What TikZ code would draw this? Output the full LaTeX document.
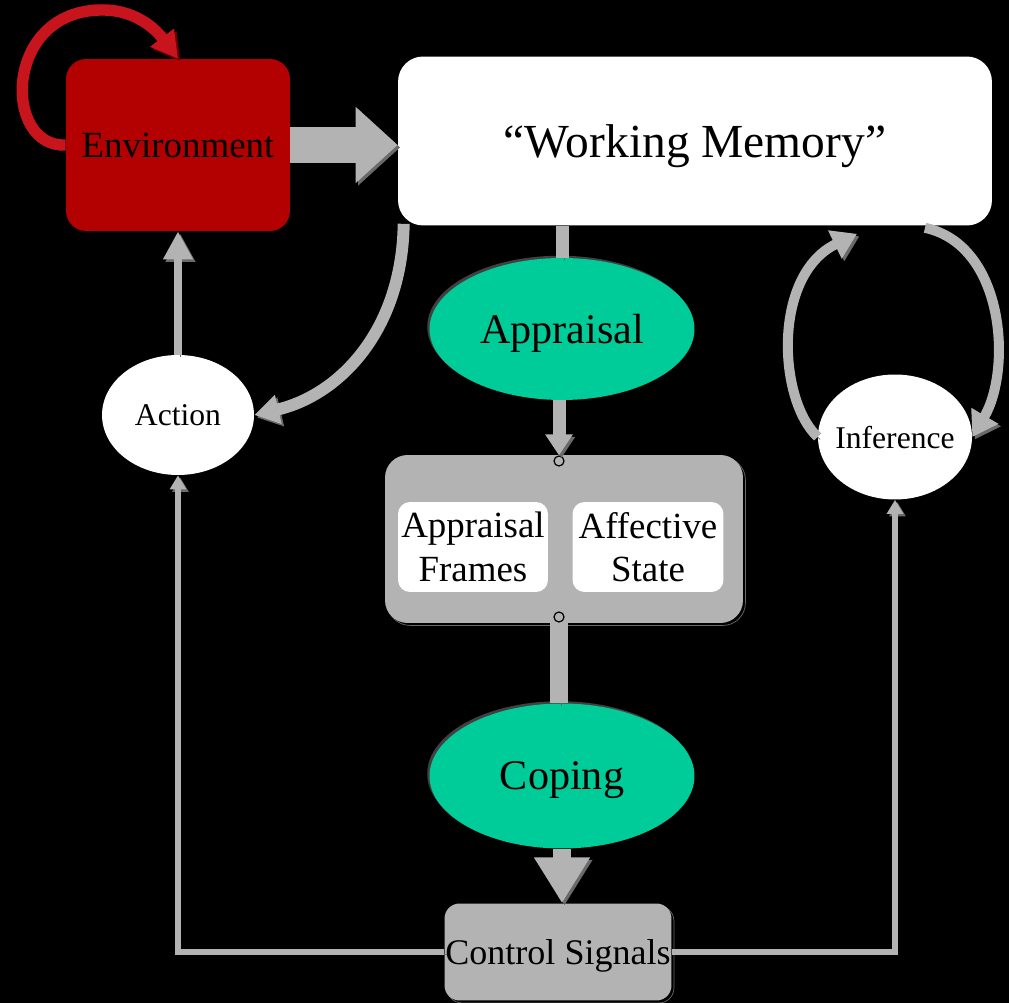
\documentclass[tikz,border=0pt]{standalone}
\usepackage{fontspec}
\setmainfont{Liberation Serif}
\usetikzlibrary{arrows.meta,shapes.geometric}
\definecolor{envred}{HTML}{B30000}
\definecolor{loopred}{HTML}{C8141C}
\definecolor{loopshade}{HTML}{6E0000}
\definecolor{appgreen}{HTML}{00CC99}
\definecolor{boxgray}{HTML}{B3B3B3}
\definecolor{shadegray}{HTML}{6A6A6A}

\begin{document}
\begin{tikzpicture}[x=0.02cm, y=-0.02cm]
    \tikzstyle{box}=[rectangle, rounded corners=0.4cm, inner sep=0pt, text=black, text depth=0pt]
    \tikzstyle{blob}=[ellipse, inner sep=0pt, text=black, text depth=0pt]
    \tikzstyle{rim}=[preaction={fill=black!75!white, transform canvas={shift={(-1.3pt,1.3pt)}}}]
    \tikzstyle{lifted}=[preaction={draw=shadegray, transform canvas={shift={(1.4pt,-1.4pt)}}}]
    \tikzstyle{fat}=[draw=boxgray, lifted]
    \tikzstyle{redfat}=[draw=loopred, preaction={draw=loopshade, transform canvas={shift={(1.4pt,-1.4pt)}}}]
    \tikzstyle{port}=[circle, draw=black, fill=boxgray, line width=0.7pt, minimum size=0.2cm, inner sep=0pt]

    % Background
    \useasboundingbox (0,0) rectangle (1009,1003);
    \fill[black] (0,0) rectangle (1009,1003);

    % Draw the environment and the working memory
    \node[box, fill=envred, minimum width=4.48cm, minimum height=3.44cm,
          font=\fontsize{21}{24}\selectfont] (env) at (178,145) {Environment};
    \node[box, fill=white, rounded corners=0.5cm, minimum width=11.88cm, minimum height=3.38cm,
          font=\fontsize{27}{30}\selectfont] (wm) at (695,141) {“Working Memory”};

    % Draw the appraisal side
    \node[blob, rim, fill=appgreen, minimum width=5.3cm, minimum height=2.84cm,
          font=\fontsize{24}{28}\selectfont] (appr) at (562,329) {Appraisal};
    \node[box, lifted, fill=boxgray, rounded corners=0.45cm, minimum width=7.16cm,
          minimum height=3.36cm] (emo) at (564,539) {};
    \node[box, fill=white, rounded corners=0.24cm, minimum width=3cm, minimum height=1.8cm,
          align=center, font=\fontsize{21}{25}\selectfont] (frames) at (473,547) {Appraisal\\Frames};
    \node[box, fill=white, rounded corners=0.24cm, minimum width=3.02cm, minimum height=1.8cm,
          align=center, font=\fontsize{21}{25}\selectfont] (state) at (648,547) {Affective\\State};
    \node[port] (in) at (559,461) {};
    \node[port] (out) at (559,617) {};
    \node[blob, rim, fill=appgreen, minimum width=5.3cm, minimum height=2.9cm,
          font=\fontsize{24}{28}\selectfont] (cope) at (562,776) {Coping};
    \node[box, lifted, fill=boxgray, rounded corners=0.3cm, minimum width=4.54cm, minimum height=1.94cm,
          font=\fontsize{20.5}{24}\selectfont] (ctrl) at (558,952) {Control Signals};

    % Draw the action and inference nodes
    \node[blob, fill=white, minimum width=3.04cm, minimum height=2.4cm,
          font=\fontsize{18}{21}\selectfont] (act) at (178,415) {Action};
    \node[blob, fill=white, inner xsep=-0.13cm, minimum width=3.08cm, minimum height=2.5cm,
          font=\fontsize{18}{21}\selectfont] (infer) at (895,437) {Inference};

    % Environment feeds working memory
    \draw[fat, line width=21pt, -{Triangle[width=42pt,length=24pt]}] (env.east) -- (env.east -| wm.west);

    % Appraisal chain
    \draw[fat, line width=7.4pt] (appr.north |- wm.south) -- (appr.north);
    \draw[fat, line width=7.4pt, -{Triangle[width=15pt,length=12pt]}] (in.north |- appr.south) -- (in.north);
    \draw[fat, line width=10pt] (out.south) -- (out.south |- cope.north);
    \draw[fat, line width=9.7pt, -{Triangle[width=30pt,length=26pt]}] (cope.south) -- (cope.south |- ctrl.north);

    % Action drives environment
    \draw[fat, line width=4.6pt, -{Triangle[width=16pt,length=16pt]}] (act.north) -- (act.north |- env.south);

    % Working memory to action
    \draw[fat, line width=6.8pt, -{Triangle[width=16pt,length=14pt]}]
        ([shift={(6,-2)}]wm.south west) .. controls (402,330) and (340,395) .. (act.east);

    % Inference loop
    \draw[fat, line width=5.7pt, -{Triangle[width=17pt,length=14pt]}]
        (infer.west) .. controls (778,400) and (772,275) .. ([shift={(162,8)}]wm.south);
    \draw[fat, line width=5.7pt, -{Triangle[width=17pt,length=14pt]}]
        ([shift={(230,2)}]wm.south) .. controls (1005,245) and (1012,370) .. (infer.east);

    % Environment acts on itself
    \draw[redfat, line width=6.5pt, -{Triangle[width=16pt,length=15pt]}]
        (env.west) .. controls (3,148) and (3,12) .. (100,10) .. controls (140,9) and (160,35) .. (env.north);

    % Control signals go out to action and inference
    \foreach \dest/\side in {act/west, infer/east}
        \draw[fat, line width=3.4pt, -{Triangle[width=9pt,length=8pt]}] (ctrl.\side) -| (\dest.south);
\end{tikzpicture}
\end{document}
